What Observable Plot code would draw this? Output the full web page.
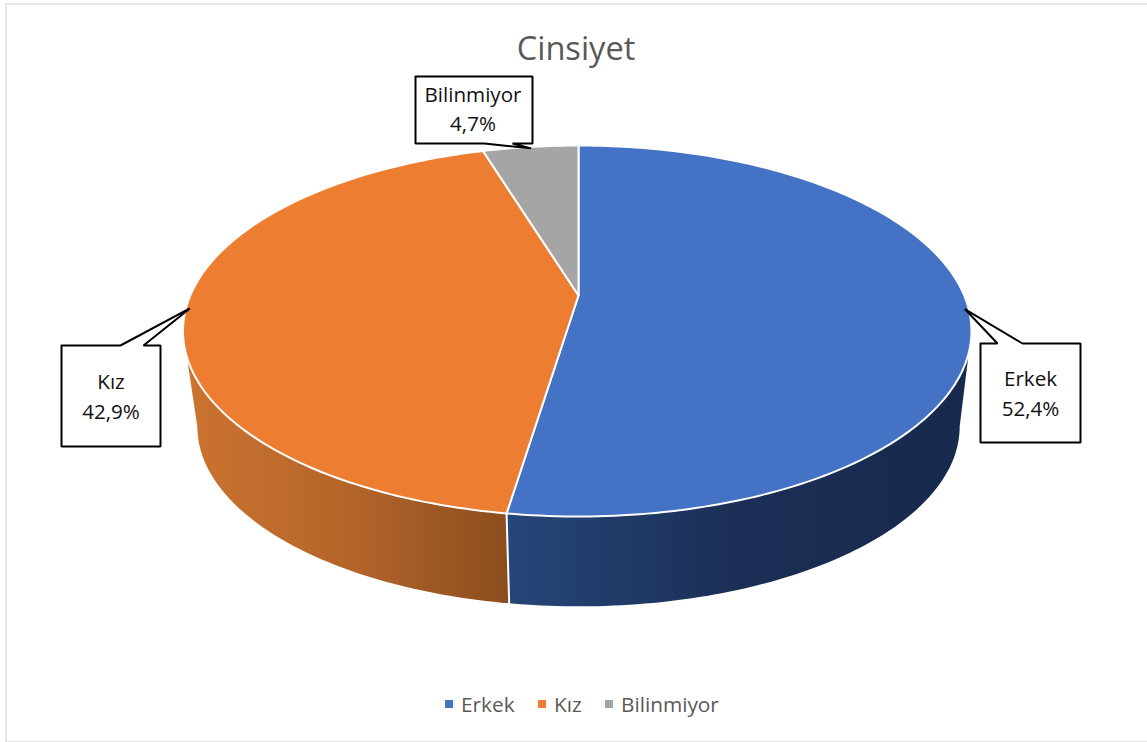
<!DOCTYPE html>
<html lang="tr">
<head>
<meta charset="utf-8">
<script src="https://cdn.jsdelivr.net/npm/d3@7"></script>
<script src="https://cdn.jsdelivr.net/npm/@observablehq/plot@0.6"></script>
<style>
  html,body{margin:0;padding:0;background:#fff;overflow:hidden}
  #page{position:relative;width:1147px;height:742px;font-family:"Open Sans",sans-serif}
  #frame{position:absolute;left:5px;top:3px;width:1140px;height:736px;border:solid #e6e6e6;border-width:2px 1px 1px 2px;pointer-events:none}
  #title{height:70px;line-height:96px;text-align:center;font-size:32.6px;color:#595959;padding-left:5px;box-sizing:border-box}
  #legend{position:relative;height:62px;font-size:20.8px;color:#595959}
  #legend span{position:absolute;top:10px;line-height:28px;white-space:nowrap}
  #legend i{position:absolute;top:20px;width:8px;height:8px}
  svg{display:block}
</style>
</head>
<body>
<div id="page">
  <div id="frame"></div>
  <div id="title">Cinsiyet</div>
  <div id="chart"></div>
  <div id="legend"></div>
</div>
<script>
// Data
const categories = ["Erkek", "Kız", "Bilinmiyor"];
const values = [52.4, 42.9, 4.7];
const colors = ["#4472c4", "#ec7d31", "#a5a5a5"];
const valueLabels = ["52,4%", "42,9%", "4,7%"];
// Callout boxes and legend layout
const boxLeft = [980, 61, 415];
const boxRight = [1080, 160, 532];
const boxTop = [343, 345, 76];
const boxBottom = [442, 446, 143];
const tailStart = [997, 120, 512];
const tailEnd = [1022, 143, 484];
const legendSwatchX = [445, 538, 605];
const legendTextX = [461, 554, 621];

const W = 1147, svgTop = 70, svgBottom = 680;

// Perspective pie model
const cx = 578, cy = 295, k = 0.1914, aRight = 385.7, aLeft = 388.2, b = 178.7;
const lowerScale = 0.97, lowerDrop = 96.5;
const project = (deg, inset = 1, lower = false) => {
  const t = deg * Math.PI / 180, X = Math.sin(t), Y = Math.cos(t), d = 1 + k * Y;
  const s = (lower ? lowerScale : 1) * inset;
  const a = X < 0 && !lower ? aLeft : aRight;
  return {x: cx + s * a * X / d, y: cy + (lower ? lowerDrop : 0) - s * b * Y / d};
};
const total = d3.sum(values);
const ends = Array.from(d3.cumsum(values), (v) => v / total * 360);
const starts = [0, ...ends.slice(0, -1)];
const arcAngles = (from, to) => {
  const n = Math.max(2, Math.ceil(Math.abs(to - from)));
  return d3.range(n + 1).map((i) => from + (to - from) * i / n);
};

// Top faces
const faces = categories.flatMap((name, i) => {
  const rim = arcAngles(starts[i], ends[i]).map((deg) => project(deg));
  const apex = {x: cx, y: cy};
  return [apex, ...rim, apex].map((p) => ({...p, name}));
});

// Visible side walls: between the silhouette points and the shared front edge
const silhouetteRight = Math.acos(-k) * 180 / Math.PI;
const silhouetteLeft = 360 - silhouetteRight;
const wall = (from, to) => [
  ...arcAngles(from, to).map((deg) => project(deg)),
  ...arcAngles(to, from).map((deg) => project(deg, 1, true))
];
const wallErkek = wall(silhouetteRight, ends[0]);
const wallKiz = wall(ends[0], silhouetteLeft);
const frontEdge = [project(ends[0]), project(ends[0], 1, true)];

// Callouts
const callouts = categories.flatMap((name, i) => {
  const tip = project((starts[i] + ends[i]) / 2, 0.99);
  const l = boxLeft[i], r = boxRight[i], t = boxTop[i], u = boxBottom[i];
  const pts = i < 2
    ? [[l, t], [tailStart[i], t], [tip.x, tip.y], [tailEnd[i], t], [r, t], [r, u], [l, u], [l, t]]
    : [[l, t], [r, t], [r, u], [tailStart[i], u], [tip.x, tip.y], [tailEnd[i], u], [l, u], [l, t]];
  return pts.map(([x, y]) => ({x, y, name}));
});
const labels = categories.map((name, i) => ({
  x: (boxLeft[i] + boxRight[i]) / 2 + (i === 2 ? -1 : 0),
  y: (boxTop[i] + boxBottom[i]) / 2 + (i === 2 ? -3 : -1.5),
  text: name + "\n" + valueLabels[i]
}));

const chart = Plot.plot({
  width: W,
  height: svgBottom - svgTop,
  margin: 0,
  style: {background: "transparent"},
  x: {domain: [0, W], range: [0, W], axis: null},
  y: {domain: [svgTop, svgBottom], range: [0, svgBottom - svgTop], axis: null},
  color: {domain: categories, range: colors},
  marks: [
    Plot.line(wallKiz, {x: "x", y: "y", fill: "url(#wallKiz)", stroke: "none"}),
    Plot.line(wallErkek, {x: "x", y: "y", fill: "url(#wallErkek)", stroke: "none"}),
    Plot.line(frontEdge, {x: "x", y: "y", stroke: "#fff", strokeWidth: 2}),
    Plot.line(faces, {x: "x", y: "y", z: "name", fill: "name", stroke: "#fff", strokeWidth: 2, strokeLinejoin: "round"}),
    Plot.line(callouts, {x: "x", y: "y", z: "name", fill: "#fff", stroke: "#000", strokeWidth: 2, strokeLinejoin: "miter"}),
    Plot.text(labels, {x: "x", y: "y", text: "text", fontSize: 20.6, lineHeight: 1.45, fill: "#111", fontFamily: "Open Sans"})
  ]
});

// Horizontal gradients of the side walls
const defs = d3.select(chart).insert("defs", ":first-child");
const gradient = (id, stops) => {
  const g = defs.append("linearGradient").attr("id", id);
  stops.forEach(([o, c]) => g.append("stop").attr("offset", o).attr("stop-color", c));
};
gradient("wallErkek", [[0, "#264679"], [0.5, "#1b2e55"], [1, "#17294c"]]);
gradient("wallKiz", [[0, "#cc7430"], [0.5, "#b5652a"], [1, "#8c4d1e"]]);

document.getElementById("chart").append(chart);

const legend = d3.select("#legend");
categories.forEach((name, i) => {
  legend.append("i").style("left", legendSwatchX[i] + "px").style("background", colors[i]);
  legend.append("span").style("left", legendTextX[i] + "px").text(name);
});
</script>
</body>
</html>
